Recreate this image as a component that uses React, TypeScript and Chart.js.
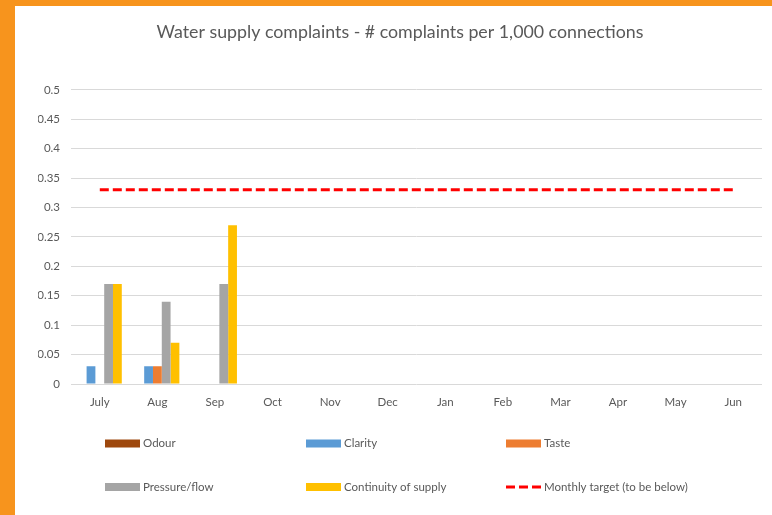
import React, { useEffect, useRef } from "react";
import { Chart, registerables } from "chart.js";

Chart.register(...registerables);

const TITLE = "Water supply complaints - # complaints per 1,000 connections";
const months = ["July", "Aug", "Sep", "Oct", "Nov", "Dec", "Jan", "Feb", "Mar", "Apr", "May", "Jun"];
const odour = [0, 0, 0, null, null, null, null, null, null, null, null, null];
const clarity = [0.03, 0.03, 0, null, null, null, null, null, null, null, null, null];
const taste = [0, 0.03, 0, null, null, null, null, null, null, null, null, null];
const pressureFlow = [0.17, 0.14, 0.17, null, null, null, null, null, null, null, null, null];
const continuity = [0.17, 0.07, 0.27, null, null, null, null, null, null, null, null, null];
const monthlyTarget = [0.33, 0.33, 0.33, 0.33, 0.33, 0.33, 0.33, 0.33, 0.33, 0.33, 0.33, 0.33];
const yMin = 0;
const yMax = 0.5;
const yStep = 0.05;

const FONT = "Lato, 'Open Sans', sans-serif";
const TEXT = "#595959";

const legendPlugin = {
  id: "gridLegend",
  afterDraw(chart: any) {
    const ctx = chart.ctx;
    const cols = [90, 291, 491];
    const rows = [437.5, 481];
    ctx.save();
    ctx.font = `11.5px ${FONT}`;
    ctx.textBaseline = "middle";
    ctx.textAlign = "left";
    chart.data.datasets.forEach((ds: any, i: number) => {
      const x = cols[i % 3];
      const y = rows[Math.floor(i / 3)];
      if (ds.type === "line") {
        ctx.strokeStyle = ds.borderColor;
        ctx.lineWidth = 3;
        ctx.setLineDash([9, 4]);
        ctx.beginPath();
        ctx.moveTo(x, y);
        ctx.lineTo(x + 35, y);
        ctx.stroke();
        ctx.setLineDash([]);
      } else {
        ctx.fillStyle = ds.backgroundColor;
        ctx.fillRect(x, y - 4, 35, 8);
      }
      ctx.fillStyle = TEXT;
      ctx.fillText(ds.label, x + 38, y);
    });
    ctx.restore();
  },
};

export default function App() {
  const ref = useRef<HTMLCanvasElement>(null);
  useEffect(() => {
    document.body.style.margin = "0";
    const barCommon = { barPercentage: 1, categoryPercentage: 0.764, borderWidth: 0 };
    const chart = new Chart(ref.current!, {
      type: "bar",
      data: {
        labels: months,
        datasets: [
          { type: "bar", label: "Odour", data: odour, backgroundColor: "#9E480E", ...barCommon },
          { type: "bar", label: "Clarity", data: clarity, backgroundColor: "#5B9BD5", ...barCommon },
          { type: "bar", label: "Taste", data: taste, backgroundColor: "#ED7D31", ...barCommon },
          { type: "bar", label: "Pressure/flow", data: pressureFlow, backgroundColor: "#A5A5A5", ...barCommon },
          { type: "bar", label: "Continuity of supply", data: continuity, backgroundColor: "#FFC000", ...barCommon },
          {
            type: "line",
            label: "Monthly target (to be below)",
            data: monthlyTarget,
            borderColor: "#FF0000",
            backgroundColor: "#FF0000",
            borderWidth: 3,
            borderDash: [9, 4],
            pointRadius: 0,
            fill: false,
          },
        ] as any,
      },
      options: {
        responsive: false,
        animation: false,
        devicePixelRatio: 1,
        layout: { padding: { left: 23, right: 10, top: 0, bottom: 0 } },
        plugins: {
          legend: { display: false },
          tooltip: { enabled: false },
          title: {
            display: true,
            text: TITLE,
            color: TEXT,
            font: { family: FONT, size: 17.8, weight: "normal" },
            padding: { top: 15.5, bottom: 47 },
          },
        },
        scales: {
          x: {
            grid: { display: false },
            border: { display: false },
            ticks: { color: TEXT, font: { family: FONT, size: 11.5 }, padding: 3, maxRotation: 0 },
            afterFit: (s: any) => {
              s.height = 131;
            },
          },
          y: {
            min: yMin,
            max: yMax,
            grid: { color: "#D9D9D9", lineWidth: 1, drawTicks: false },
            border: { display: false },
            ticks: {
              stepSize: yStep,
              color: TEXT,
              padding: 11,
              font: { family: FONT, size: 11.5 },
              callback: (v: any) => String(Number(Number(v).toFixed(2))),
            },
            afterFit: (s: any) => {
              s.width = 33;
            },
          },
        },
      },
      plugins: [legendPlugin],
    });
    return () => chart.destroy();
  }, []);
  return (
    <div style={{ width: 772, height: 515, background: "#F7941D", position: "relative", overflow: "hidden" }}>
      <div style={{ position: "absolute", left: 15, top: 6, width: 757, height: 509, background: "#FFFFFF" }}>
        <canvas ref={ref} width={757} height={509} style={{ display: "block" }} />
      </div>
    </div>
  );
}
